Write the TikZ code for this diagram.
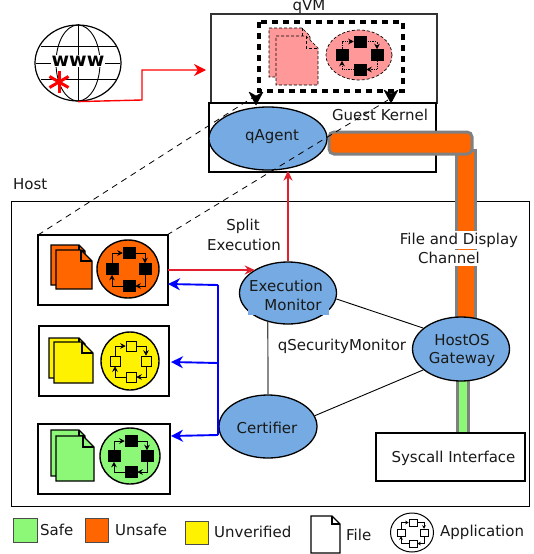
\documentclass[tikz,border=0pt]{standalone}
\usepackage{fontspec}
\setmainfont{DejaVu Sans}
\usetikzlibrary{arrows.meta,calc,shapes.geometric}
\definecolor{qblue}{HTML}{75ABE2}
\definecolor{qorange}{HTML}{FF6600}
\definecolor{qgreen}{HTML}{8DF878}
\definecolor{qpink}{HTML}{FF9999}
\definecolor{qred}{HTML}{E0202C}
\tikzset{
  lbl/.style={font=\fontsize{15}{17}\selectfont, inner sep=0pt, text=black!90},
  blob/.style={ellipse, draw=black, line width=1.3pt, fill=qblue, inner sep=0pt},
  kbox/.style={draw=black!80, line width=1.2pt},
  tbox/.style={draw=black, line width=2pt, fill=white},
  link/.style={draw=black, line width=0.9pt},
  appbody/.style={draw=black, line width=1.4pt},
  appsq/.style={draw=black, fill=black, line width=0.5pt, inner sep=0pt, minimum width=12pt, minimum height=11pt},
  appring/.style={draw=black, line width=0.8pt, -{Stealth[length=5.5pt,width=5.5pt]}},
  docshape/.style={draw=black, line width=1.1pt},
  redarrow/.style={draw=qred, line width=1.4pt, -{Stealth[length=10pt,width=9pt]}},
  bluearrow/.style={draw=blue, line width=1.9pt, -{Stealth[length=12pt,width=12pt]}},
  tunnel/.style={draw=black!50, line width=3pt},
  hintline/.style={draw=black, line width=0.8pt, dash pattern=on 6pt off 5pt},
  bighead/.style={fill=black, draw=black, line width=0.5pt, line join=round},
}
% #1 options, #2 prefix, #3 cx, #4 cy, #5 rx, #6 ry, #7 fill, #8 dx, #9 dy
\newcommand\appicon[9][]{%
  \begin{scope}[#1]
    \path[appbody, fill=#7] (#3,#4) ellipse [x radius=#5, y radius=#6];
    \node[appsq] (#2t) at ({#3+1},{#4-#9}) {};
    \node[appsq] (#2b) at ({#3+1},{#4+#9+1}) {};
    \node[appsq] (#2l) at ({#3-#8},{#4}) {};
    \node[appsq] (#2r) at ({#3+#8+1},{#4}) {};
    \draw[appring] (#2t) -| (#2r);
    \draw[appring] (#2r) |- (#2b);
    \draw[appring] (#2b) -| (#2l);
    \draw[appring] (#2l) |- (#2t);
  \end{scope}}
% #1 options, #2 x1, #3 y1, #4 x2, #5 y2, #6 fold, #7 fill
\newcommand\docicon[7][]{%
  \path[docshape, fill=#7, #1] (#2,#3) -- ({#4-#6},#3) -- (#4,{#3+#6}) -- (#4,#5) -- (#2,#5) -- cycle;
  \path[docshape, #1] ({#4-#6},#3) -- ({#4-#6},{#3+#6}) -- (#4,{#3+#6});}
% head of the large black arrows: #1 x, #2 tip y
\newcommand\headicon[2]{%
  \path[bighead] (#1,#2) -- ({#1-7},{#2-13}) -- (#1,{#2-9}) -- ({#1+7},{#2-13}) -- cycle;}
\begin{document}
\begin{tikzpicture}[x=1pt,y=-1pt]
\useasboundingbox[fill=white] (0,0) rectangle (534,554);
% Host
\draw[draw=black, line width=1pt] (11,201) rectangle (529,506);
\node[lbl, anchor=west] (hostlbl) at (13,184) {Host};
% VM
\draw[kbox] (211,14) rectangle (437,103);
\draw[kbox, draw=black] (209,103) rectangle (436,172);
\node[lbl] (qvmlbl) at (309,6.5) {qVM};
\node[lbl] (gklbl) at (380,115) {Guest Kernel};
% channel
\draw[tunnel, fill=qorange] (456,150) rectangle (475,325);
\draw[tunnel, fill=qgreen] (457,378) rectangle (468,434);
\draw[tunnel, fill=qorange, rounded corners=5pt] (329,132) rectangle (472,154);
\node[lbl, fill=white, inner sep=2pt] (chan1) at (459,240) {File and Display};
\node[lbl, fill=white, inner sep=2pt] (chan2) at (449,258) {Channel};
% dashed VM content
\draw[black, line width=3.2pt, dash pattern=on 6pt off 5pt] (259,22) rectangle (403,91);
\docicon[densely dashed, draw=black, line width=0.6pt]{269}{28}{310}{77}{8}{qpink}
\docicon[densely dashed, draw=black, line width=0.6pt]{276}{36}{318}{85}{12}{qpink}
\appicon[appbody/.append style={densely dashed, line width=0.7pt}, appring/.append style={densely dotted}]{pk}{359}{55}{33}{25}{qpink}{17}{13.5}
% boxes
\node[blob, minimum width=118pt, minimum height=63pt] (qagent) at (268,138.5) {};
\node[lbl] at (272,137) {qAgent};
\draw[tbox] (38,235) rectangle (168,305);
\draw[tbox] (39,326) rectangle (169,396);
\draw[tbox] (38,424) rectangle (170,494);
\coordinate (b1nw) at (38,235);
\coordinate (b1ne) at (167,235);
\coordinate (hintA) at (255,96);
\coordinate (hintB) at (388,100);
\draw[hintline] (b1nw) -- (hintA);
\draw[hintline] (b1ne) -- (hintB);
\headicon{256}{105}
\headicon{391}{103}
% documents + apps
\docicon{51}{245}{85}{285}{6}{qorange}
\docicon{56}{250}{92}{289}{11}{qorange}
\appicon{or}{128}{269}{31}{29}{qorange}{16}{16}
\docicon{49}{338}{85}{378}{6}{yellow}
\docicon{54}{342}{93}{383}{11}{yellow}
\appicon[appsq/.append style={fill=yellow, minimum width=10pt, minimum height=10pt}]{ye}{130}{361}{29}{29}{yellow}{15}{15}
\docicon{51}{430}{85}{476}{6}{qgreen}
\docicon{56}{436}{94}{481}{11}{qgreen}
\appicon{gr}{130}{456}{30}{28}{qgreen}{16}{15}
% blobs
\node[blob, minimum width=97pt, minimum height=62pt] (em) at (288,293) {};
\fill[qblue] (248,300) rectangle (329,315);
\node[lbl] at (286,286) {Execution};
\node[lbl] at (293,305) {Monitor};
\node[blob, minimum width=98pt, minimum height=63pt] (cert) at (268,426.5) {};
\node[lbl] at (267,428) {Certifier};
\node[blob, minimum width=97pt, minimum height=64pt] (gw) at (461,349) {};
\node[lbl] at (462,340) {HostOS};
\node[lbl] at (462,359) {Gateway};
\draw[link] (em.-7) -- (gw.151);
\draw[link, draw=black!70, line width=1.2pt] (cert.90) -- (em.235);
\draw[link] (cert.13) -- (gw.209);
\node[lbl] (qsm) at (342,346) {qSecurityMonitor};
\node[lbl] (split1) at (243,226) {Split};
\node[lbl] (split2) at (244,245) {Execution};
% arrows
\coordinate (b1e) at (168,270);
\coordinate (b1b) at (168,284);
\coordinate (b2b) at (171,362);
\coordinate (b3b) at (171,436);
\coordinate (bus1) at (218,285);
\coordinate (bus2) at (218,363);
\coordinate (bus3) at (218,435);
\draw[redarrow] (b1e) -- (b1e -| em.145);
\draw[redarrow] (em.north) -- (qagent.south -| em.north);
\draw[bluearrow] (bus1) -- (b1b);
\draw[bluearrow] (bus2) -- (b2b);
\draw[bluearrow] (bus3) -- (b3b);
\draw[blue, line width=1.9pt] (bus1) -- (bus3);
% globe
\node[ellipse, draw=black, line width=1.2pt, minimum width=86pt, minimum height=76pt, inner sep=0pt] (globe) at (78,63) {};
\draw[black, line width=0.9pt] (globe.north) -- (globe.south);
\draw[black, line width=0.9pt] (78,63) ellipse [x radius=22, y radius=38];
\draw[black, line width=0.9pt] (41,46) -- (116,46) (36,63) -- (120,63) (41,79) -- (116,79);
\node[font=\bfseries\fontsize{19}{21}\selectfont, fill=white, inner sep=1pt] (www) at (78,61) {www};
\foreach \a in {90,150,210,270,330,30} \draw[red, line width=3pt] (59,82) -- ++({\a}:11);
\coordinate (webin) at (206,70);
\coordinate (mid1) at (142,100);
\coordinate (mid2) at (142,70);
\draw[draw=red, line width=1.4pt, -{Stealth[length=12pt,width=12pt]}] (globe.south) -- (mid1) -- (mid2) -- (webin);
% syscall
\node[draw=black, line width=1.2pt, fill=white, minimum width=149pt, minimum height=48pt, inner sep=0pt] (sys) at (450.5,457) {};
\node[lbl] at (453.5,458) {Syscall Interface};
% legend
\draw[draw=black!70, line width=1pt, fill=qgreen] (13,518) rectangle (37,542);
\node[lbl, anchor=west] at (40,530) {Safe};
\draw[draw=black!70, line width=1pt, fill=qorange] (85,518) rectangle (108,542);
\node[lbl, anchor=west] at (115,530) {Unsafe};
\draw[draw=black!70, line width=1pt, fill=yellow] (185,521) rectangle (208,544);
\node[lbl, anchor=west] at (214,532) {Unverified};
\docicon{311}{516}{340}{553}{8}{white}
\node[lbl, anchor=west] at (346,535) {File};
\appicon[appbody/.append style={line width=1pt}, appsq/.append style={fill=white, minimum width=8pt, minimum height=7pt}, appring/.append style={line width=0.6pt, -{Stealth[length=3.5pt,width=3.5pt]}}]{lg}{412}{532.5}{21.5}{19.5}{white}{11}{10}
\node[lbl, anchor=west] at (440,532) {Application};
\end{tikzpicture}
\end{document}
